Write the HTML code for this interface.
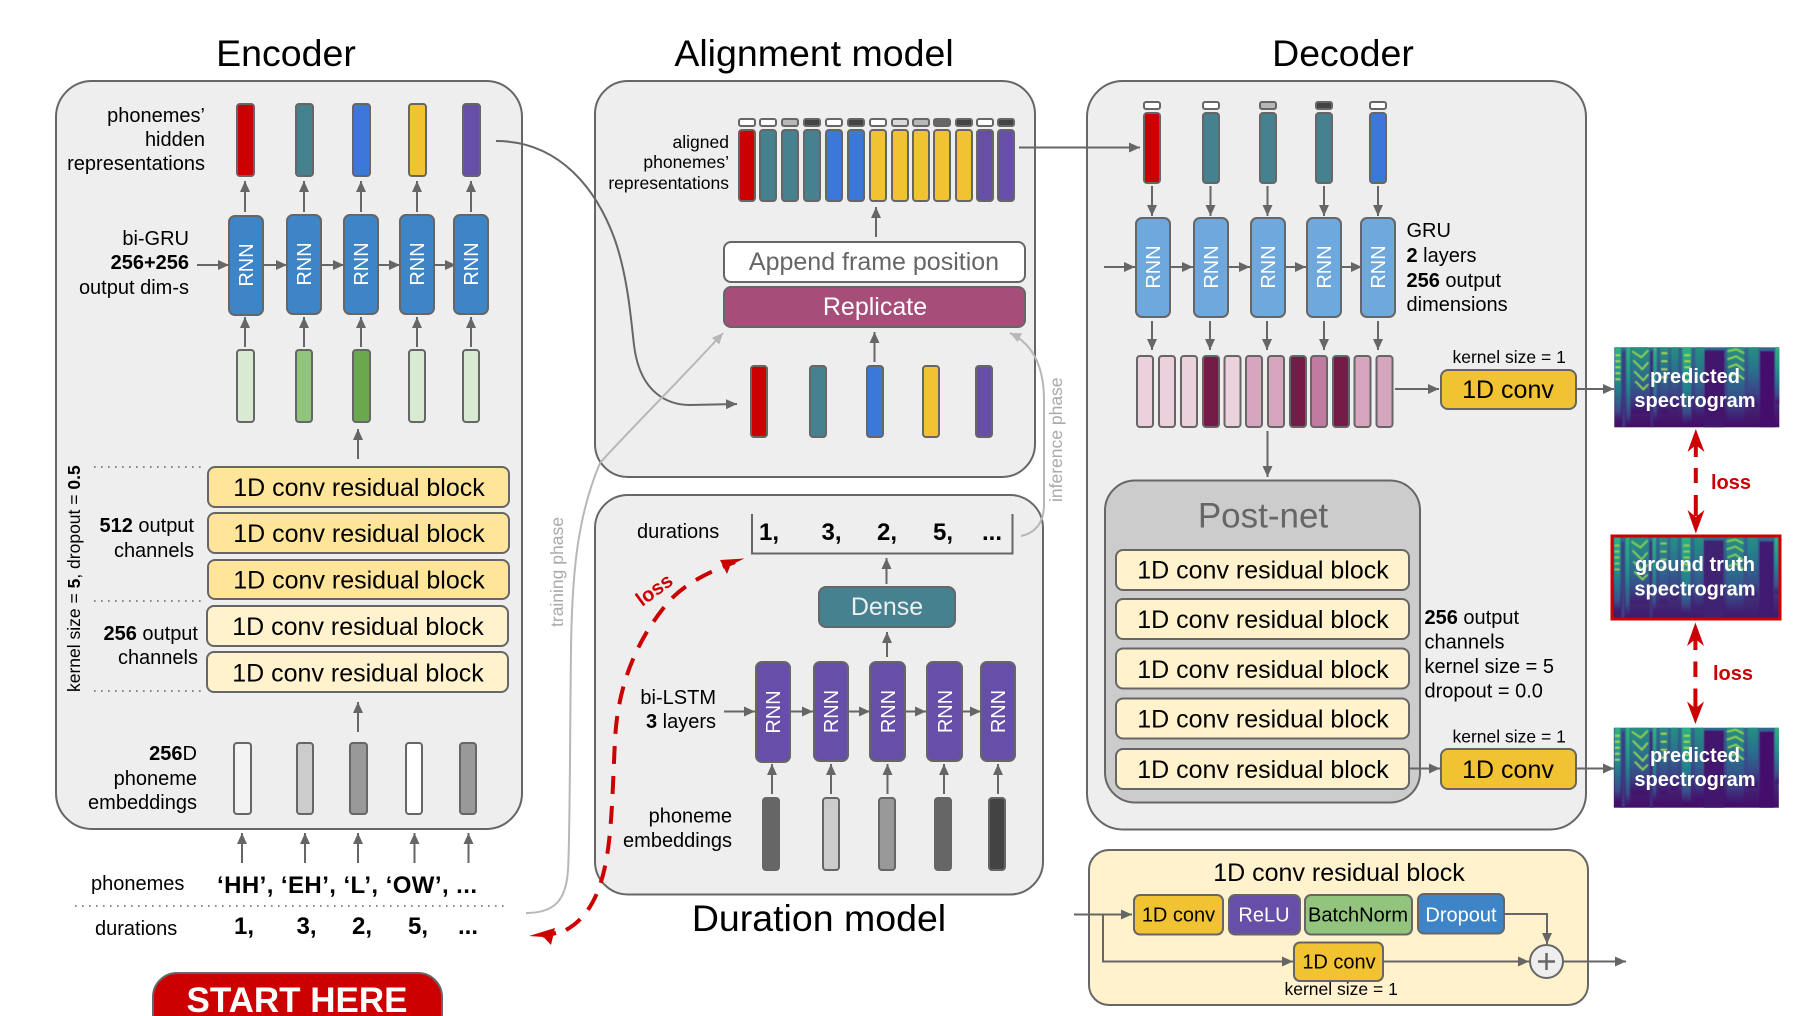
<!DOCTYPE html>
<html><head><meta charset="utf-8"><style>
html,body{margin:0;padding:0;background:#fff;width:1809px;height:1016px;overflow:hidden}
svg{display:block}
text{font-family:"Liberation Sans",sans-serif;fill:#000;font-size:20px}
.b{stroke:#666;stroke-width:2}
.t{font-size:37.5px;text-anchor:middle}
.r{text-anchor:end}
.m{text-anchor:middle}
.bold,.bb{font-weight:bold}
.blk{font-size:25px;text-anchor:middle}
.rnn{font-size:20px;text-anchor:middle;fill:#fff}
.w{stroke:#666;stroke-width:2;fill:none}
.a{stroke:#666;stroke-width:2;fill:none;marker-end:url(#ah)}
.l{stroke:#b7b7b7;stroke-width:2;fill:none;marker-end:url(#lh)}
.sp{font-weight:bold;fill:#fff;text-anchor:middle;font-size:20px}
.rd{stroke:#c00;stroke-width:4;fill:none}
.lo{font-weight:bold;fill:#c00;font-size:20px}
</style></head><body>
<svg width="1809" height="1016" viewBox="0 0 1809 1016" xmlns="http://www.w3.org/2000/svg">
<defs>
<marker id="ah" markerUnits="userSpaceOnUse" markerWidth="12" markerHeight="10" refX="11" refY="5" orient="auto"><polygon points="0,0 11,5 0,10" fill="#666"/></marker>
<marker id="lh" markerUnits="userSpaceOnUse" markerWidth="12" markerHeight="10" refX="11" refY="5" orient="auto"><polygon points="0,0 11,5 0,10" fill="#b7b7b7"/></marker>
<linearGradient id="g1" x1="0" y1="0" x2="0" y2="1"><stop offset="0" stop-color="#2fb47c"/><stop offset=".35" stop-color="#1f9a8a"/><stop offset=".6" stop-color="#26788e"/><stop offset=".85" stop-color="#3b4d8a"/><stop offset="1" stop-color="#440f6b"/></linearGradient>
<linearGradient id="g2" x1="0" y1="0" x2="0" y2="1"><stop offset="0" stop-color="#25907f"/><stop offset=".4" stop-color="#2a6f8e"/><stop offset=".75" stop-color="#3b4486"/><stop offset="1" stop-color="#440f6b"/></linearGradient>
<linearGradient id="g3" x1="0" y1="0" x2="0" y2="1"><stop offset="0" stop-color="#31688e"/><stop offset=".55" stop-color="#3b4486"/><stop offset=".8" stop-color="#43206f"/><stop offset="1" stop-color="#440c68"/></linearGradient>
<filter id="sb" x="0" y="0" width="1" height="1"><feGaussianBlur stdDeviation="0.6"/></filter>
<g id="spec">
<rect width="165" height="80" fill="url(#g3)"/>
<g filter="url(#sb)">
<rect x="90" y="3" width="20" height="77" fill="#43146d"/>
<rect x="146" y="4" width="14" height="76" fill="#44106c"/>
<rect x="8" y="4" width="3" height="76" fill="#3a3a82"/>
<rect x="36" y="4" width="3" height="76" fill="#3f2a7a"/>
<rect x="0.7" y="0" width="6" height="74" fill="url(#g1)"/>
<rect x="12" y="0" width="4" height="78" fill="url(#g1)"/>
<rect x="17" y="0" width="18" height="66" fill="url(#g2)"/>
<rect x="39" y="0" width="3.5" height="74" fill="url(#g1)"/>
<rect x="46" y="0" width="8" height="66" fill="url(#g2)"/>
<rect x="57" y="0" width="7" height="62" fill="url(#g2)"/>
<rect x="68" y="0" width="9" height="76" fill="url(#g1)"/>
<rect x="81" y="0" width="9" height="72" fill="url(#g2)"/>
<rect x="113" y="0" width="17" height="76" fill="url(#g2)"/>
<rect x="134" y="0" width="10" height="60" fill="url(#g2)"/>
<rect x="161" y="0" width="4" height="56" fill="url(#g1)"/>
<path d="M18 4L27 10L34 3M19 13L28 22L34 15M20 24L29 33L34 27M21 34L29 42L34 37" stroke="#8fd744" stroke-width="1.7" fill="none"/>
<path d="M113 4L122 2L130 6M113 12L122 9L130 14M114 20L122 17L130 23M115 29L122 26L130 32" stroke="#8fd744" stroke-width="1.7" fill="none"/>
<path d="M1 8H6M1 14H6M1 20H6M1 26H6M1 32H6M47 6H53M47 14H53M47 22H53M47 30H53M70 8H76M70 14H76M70 20H76M70 27H76M70 33H76" stroke="#b5de2b" stroke-width="1.5" fill="none"/>
</g>
</g>
</defs>

<!-- titles -->
<text class="t" x="286" y="66">Encoder</text>
<text class="t" x="814" y="66">Alignment model</text>
<text class="t" x="1343" y="66">Decoder</text>
<text class="t" x="819" y="931">Duration model</text>

<!-- panels -->
<rect class="b" x="56" y="81" width="466" height="748" rx="36" fill="#eee"/>
<rect class="b" x="595" y="81" width="440" height="396" rx="33" fill="#eee"/>
<rect class="b" x="595" y="495" width="448" height="399.5" rx="33" fill="#eee"/>
<rect class="b" x="1087" y="81" width="499" height="748.5" rx="36" fill="#eee"/>
<rect class="b" x="1089" y="850" width="499" height="155" rx="20" fill="#fff2cc"/>
<rect class="b" x="1105" y="480.5" width="315" height="322" rx="30" fill="#ccc"/>

<!-- ENCODER -->
<text class="r" x="205" y="122">phonemes’</text>
<text class="r" x="205" y="146">hidden</text>
<text class="r" x="205" y="170">representations</text>
<rect class="b" x="237" y="104" width="17" height="72" rx="3" fill="#c00"/>
<rect class="b" x="296" y="104" width="17" height="72" rx="3" fill="#45818e"/>
<rect class="b" x="353" y="104" width="17" height="72" rx="3" fill="#3c78d8"/>
<rect class="b" x="409" y="104" width="17" height="72" rx="3" fill="#f1c232"/>
<rect class="b" x="463" y="104" width="17" height="72" rx="3" fill="#674ea7"/>
<path class="a" d="M245 212V181"/><path class="a" d="M304 212V181"/><path class="a" d="M361 212V181"/><path class="a" d="M417 212V181"/><path class="a" d="M471 212V181"/>
<text class="r" x="189" y="245">bi-GRU</text>
<text class="r bold" x="189" y="269">256+256</text>
<text class="r" x="189" y="294">output dim-s</text>
<path class="a" d="M197 265H229"/><path class="a" d="M263 265H287"/><path class="a" d="M321 265H344"/><path class="a" d="M378 265H400"/><path class="a" d="M434 265H456"/>
<g fill="#3d85c6">
<rect class="b" x="229" y="216" width="34" height="99" rx="6"/>
<rect class="b" x="287" y="215" width="34" height="99" rx="6"/>
<rect class="b" x="344" y="215" width="34" height="99" rx="6"/>
<rect class="b" x="400" y="215" width="34" height="99" rx="6"/>
<rect class="b" x="454" y="215" width="34" height="99" rx="6"/>
</g>
<text class="rnn" transform="translate(253,265) rotate(-90)">RNN</text>
<text class="rnn" transform="translate(311,264) rotate(-90)">RNN</text>
<text class="rnn" transform="translate(368,264) rotate(-90)">RNN</text>
<text class="rnn" transform="translate(424,264) rotate(-90)">RNN</text>
<text class="rnn" transform="translate(478,264) rotate(-90)">RNN</text>
<path class="a" d="M245 347V317"/><path class="a" d="M304 347V317"/><path class="a" d="M361 347V317"/><path class="a" d="M417 347V317"/><path class="a" d="M471 347V317"/>
<rect class="b" x="237" y="350" width="17" height="72" rx="3" fill="#d9ead3"/>
<rect class="b" x="296" y="350" width="16" height="72" rx="3" fill="#93c47d"/>
<rect class="b" x="353" y="350" width="17" height="72" rx="3" fill="#6aa84f"/>
<rect class="b" x="409" y="350" width="16" height="72" rx="3" fill="#d9ead3"/>
<rect class="b" x="463" y="350" width="16" height="72" rx="3" fill="#d9ead3"/>
<path class="a" d="M358 459V429"/>
<g stroke="#666" stroke-width="1.6" stroke-dasharray="1.6 5.4" fill="none">
<path d="M94 467H203M94 601H203M94 691H203M75 906H508"/>
</g>
<g>
<rect class="b" x="208" y="467" width="301" height="40" rx="7" fill="#ffe599"/>
<rect class="b" x="208" y="513" width="301" height="40" rx="7" fill="#ffe599"/>
<rect class="b" x="208" y="560" width="301" height="39" rx="7" fill="#ffe599"/>
<rect class="b" x="207" y="606" width="301" height="40" rx="7" fill="#fff2cc"/>
<rect class="b" x="207" y="652" width="301" height="40" rx="7" fill="#fff2cc"/>
</g>
<text class="blk" x="359" y="496">1D conv residual block</text>
<text class="blk" x="359" y="542">1D conv residual block</text>
<text class="blk" x="359" y="588.5">1D conv residual block</text>
<text class="blk" x="358" y="635">1D conv residual block</text>
<text class="blk" x="358" y="681.5">1D conv residual block</text>
<text transform="translate(80,692) rotate(-90)" style="font-size:17.5px">kernel size = <tspan class="bb">5</tspan>, dropout = <tspan class="bb">0.5</tspan></text>
<text class="r" x="194" y="532"><tspan class="bb">512</tspan> output</text>
<text class="r" x="194" y="557">channels</text>
<text class="r" x="198" y="640"><tspan class="bb">256</tspan> output</text>
<text class="r" x="198" y="664">channels</text>
<text class="r" x="197" y="760"><tspan class="bb">256</tspan>D</text>
<text class="r" x="197" y="785">phoneme</text>
<text class="r" x="197" y="809">embeddings</text>
<path class="a" d="M358 732V702"/>
<rect class="b" x="234" y="743" width="17" height="71" rx="3" fill="#f3f3f3"/>
<rect class="b" x="297" y="743" width="16" height="71" rx="3" fill="#ccc"/>
<rect class="b" x="350" y="743" width="17" height="71" rx="3" fill="#999"/>
<rect class="b" x="406" y="743" width="16" height="71" rx="3" fill="#fff"/>
<rect class="b" x="460" y="743" width="16" height="71" rx="3" fill="#999"/>
<path class="a" d="M242 863V833"/><path class="a" d="M305 863V833"/><path class="a" d="M358 863V833"/><path class="a" d="M414.5 863V833"/><path class="a" d="M468.5 863V833"/>
<text x="91" y="890">phonemes</text>
<text x="95" y="935">durations</text>
<text class="bold" x="217" y="893" style="font-size:24px" textLength="260">‘HH’, ‘EH’, ‘L’, ‘OW’, ...</text>
<text x="234" y="934" style="font-size:24px;font-weight:bold">1,</text>
<text x="296.5" y="934" style="font-size:24px;font-weight:bold">3,</text>
<text x="352" y="934" style="font-size:24px;font-weight:bold">2,</text>
<text x="408" y="934" style="font-size:24px;font-weight:bold">5,</text>
<text x="458" y="934" style="font-size:24px;font-weight:bold">...</text>
<path d="M153 1020V997a24 24 0 0 1 24-24H418a24 24 0 0 1 24 24V1020Z" fill="#c00" stroke="#666" stroke-width="2"/>
<text class="m" x="297" y="1012" style="font-size:35px;font-weight:bold;fill:#fff">START HERE</text>

<!-- ALIGNMENT -->
<text class="r" x="729" y="148" style="font-size:17.5px">aligned</text>
<text class="r" x="729" y="168" style="font-size:17.5px">phonemes’</text>
<text class="r" x="729" y="189" style="font-size:17.5px">representations</text>
<g class="b">
<rect x="739" y="119" width="16" height="7" rx="2" fill="#fff"/>
<rect x="760" y="119" width="16" height="7" rx="2" fill="#fff"/>
<rect x="782" y="119" width="16" height="7" rx="2" fill="#b7b7b7"/>
<rect x="804" y="119" width="16" height="7" rx="2" fill="#434343"/>
<rect x="826" y="119" width="16" height="7" rx="2" fill="#fff"/>
<rect x="848" y="119" width="16" height="7" rx="2" fill="#434343"/>
<rect x="870" y="119" width="16" height="7" rx="2" fill="#fff"/>
<rect x="892" y="119" width="16" height="7" rx="2" fill="#d9d9d9"/>
<rect x="913" y="119" width="16" height="7" rx="2" fill="#b7b7b7"/>
<rect x="934" y="119" width="16" height="7" rx="2" fill="#666"/>
<rect x="956" y="119" width="16" height="7" rx="2" fill="#434343"/>
<rect x="977" y="119" width="16" height="7" rx="2" fill="#fff"/>
<rect x="998" y="119" width="16" height="7" rx="2" fill="#434343"/>
<rect x="739" y="130" width="16" height="71" rx="3" fill="#c00"/>
<rect x="760" y="130" width="16" height="71" rx="3" fill="#45818e"/>
<rect x="782" y="130" width="16" height="71" rx="3" fill="#45818e"/>
<rect x="804" y="130" width="16" height="71" rx="3" fill="#45818e"/>
<rect x="826" y="130" width="16" height="71" rx="3" fill="#3c78d8"/>
<rect x="848" y="130" width="16" height="71" rx="3" fill="#3c78d8"/>
<rect x="870" y="130" width="16" height="71" rx="3" fill="#f1c232"/>
<rect x="892" y="130" width="16" height="71" rx="3" fill="#f1c232"/>
<rect x="913" y="130" width="16" height="71" rx="3" fill="#f1c232"/>
<rect x="934" y="130" width="16" height="71" rx="3" fill="#f1c232"/>
<rect x="956" y="130" width="16" height="71" rx="3" fill="#f1c232"/>
<rect x="977" y="130" width="16" height="71" rx="3" fill="#674ea7"/>
<rect x="998" y="130" width="16" height="71" rx="3" fill="#674ea7"/>
</g>
<path class="a" d="M876 237V207"/>
<rect class="b" x="724" y="242" width="301" height="40" rx="7" fill="#fff"/>
<text class="m" x="874" y="270" style="font-size:25px;fill:#666">Append frame position</text>
<rect class="b" x="724" y="287" width="301" height="40" rx="7" fill="#a64d79"/>
<text class="m" x="875" y="315" style="font-size:25px;fill:#fff">Replicate</text>
<path class="a" d="M874.5 362V332"/>
<rect class="b" x="751" y="366" width="16" height="71" rx="3" fill="#c00"/>
<rect class="b" x="810" y="366" width="16" height="71" rx="3" fill="#45818e"/>
<rect class="b" x="867" y="366" width="16" height="71" rx="3" fill="#3c78d8"/>
<rect class="b" x="923" y="366" width="16" height="71" rx="3" fill="#f1c232"/>
<rect class="b" x="976" y="366" width="16" height="71" rx="3" fill="#674ea7"/>
<path class="a" d="M496 141C560 141 597 190 615 240C628 278 631 320 634 345C640 395 670 405 690 405L737 404"/>
<path class="l" d="M526 913C555 913 566 900 568 870C570 840 570 720 571 650C572 570 578 515 600 463C620 440 680 380 723 333"/>
<path class="l" d="M1021 536C1035 533 1044 523 1044 505L1044 400C1044 370 1035 345 1010 333"/>
<text transform="translate(1062,502) rotate(-90)" style="font-size:17.5px;fill:#aaa">inference phase</text>
<text transform="translate(563,627) rotate(-90)" style="font-size:17.5px;fill:#aaa">training phase</text>

<!-- DURATION -->
<text x="637" y="538">durations</text>
<path class="w" d="M752 514V553.5H1012.5V514"/>
<text x="759" y="540" style="font-size:24px;font-weight:bold">1,</text>
<text x="821.5" y="540" style="font-size:24px;font-weight:bold">3,</text>
<text x="877" y="540" style="font-size:24px;font-weight:bold">2,</text>
<text x="933" y="540" style="font-size:24px;font-weight:bold">5,</text>
<text x="982" y="540" style="font-size:24px;font-weight:bold">...</text>
<path class="a" d="M886.5 584V558"/>
<rect class="b" x="819" y="587" width="136" height="40" rx="7" fill="#45818e"/>
<text class="m" x="887" y="615" style="font-size:25px;fill:#eee">Dense</text>
<path class="a" d="M887 657V632"/>
<path class="a" d="M724 711.5H755"/><path class="a" d="M790 711.5H813"/><path class="a" d="M849 711.5H870"/><path class="a" d="M905 711.5H926"/><path class="a" d="M962 711.5H981"/>
<g fill="#674ea7">
<rect class="b" x="756" y="662" width="34" height="100" rx="6"/>
<rect class="b" x="814" y="662" width="34" height="99" rx="6"/>
<rect class="b" x="870" y="662" width="35" height="99" rx="6"/>
<rect class="b" x="927" y="662" width="35" height="99" rx="6"/>
<rect class="b" x="981" y="662" width="34" height="99" rx="6"/>
</g>
<text class="rnn" transform="translate(780,712) rotate(-90)">RNN</text>
<text class="rnn" transform="translate(838,711.5) rotate(-90)">RNN</text>
<text class="rnn" transform="translate(895,711.5) rotate(-90)">RNN</text>
<text class="rnn" transform="translate(952,711.5) rotate(-90)">RNN</text>
<text class="rnn" transform="translate(1005,711.5) rotate(-90)">RNN</text>
<text class="r" x="716" y="704">bi-LSTM</text>
<text class="r" x="716" y="728"><tspan class="bb">3</tspan> layers</text>
<text class="r" x="732" y="822.5">phoneme</text>
<text class="r" x="732" y="847">embeddings</text>
<path class="a" d="M772 794V764"/><path class="a" d="M831 794V764"/><path class="a" d="M887.5 794V764"/><path class="a" d="M944 794V764"/><path class="a" d="M998 794V764"/>
<rect class="b" x="763" y="798" width="16" height="72" rx="3" fill="#666"/>
<rect class="b" x="823" y="798" width="16" height="72" rx="3" fill="#ccc"/>
<rect class="b" x="879" y="798" width="16" height="72" rx="3" fill="#999"/>
<rect class="b" x="935" y="798" width="16" height="72" rx="3" fill="#666"/>
<rect class="b" x="989" y="798" width="16" height="72" rx="3" fill="#434343"/>
<path class="rd" stroke-dasharray="18 12" d="M566 930C582 921 593 906 600 885C612 850 612 800 615 740C618 680 640 635 670 600C690 580 712 571 735 562"/>
<polygon fill="#c00" points="744.5,558.5 720,560 727,574 730.5,565"/>
<path class="rd" d="M543 936L556 933"/>
<polygon fill="#c00" points="529,936 555,928 551,945 543.5,937"/>
<text transform="translate(642,607) rotate(-36)" class="lo">loss</text>

<!-- DECODER -->
<path class="a" d="M1019 147.5H1140"/>
<g class="b">
<rect x="1144" y="102" width="16" height="7" rx="2" fill="#fff"/>
<rect x="1203" y="102" width="16" height="7" rx="2" fill="#fff"/>
<rect x="1260" y="102" width="16" height="7" rx="2" fill="#b7b7b7"/>
<rect x="1316" y="102" width="16" height="7" rx="2" fill="#434343"/>
<rect x="1370" y="102" width="16" height="7" rx="2" fill="#fff"/>
<rect x="1144" y="113" width="16" height="70" rx="3" fill="#c00"/>
<rect x="1203" y="113" width="16" height="70" rx="3" fill="#45818e"/>
<rect x="1260" y="113" width="16" height="70" rx="3" fill="#45818e"/>
<rect x="1316" y="113" width="16" height="70" rx="3" fill="#45818e"/>
<rect x="1370" y="113" width="16" height="70" rx="3" fill="#3c78d8"/>
</g>
<path class="a" d="M1152 186V216"/><path class="a" d="M1210.5 186V216"/><path class="a" d="M1267.5 186V216"/><path class="a" d="M1324 186V216"/><path class="a" d="M1378 186V216"/>
<path class="a" d="M1104 267H1135"/><path class="a" d="M1170 267H1193"/><path class="a" d="M1228 267H1250"/><path class="a" d="M1285 267H1306"/><path class="a" d="M1341 267H1362"/>
<g fill="#6fa8dc">
<rect class="b" x="1136" y="218" width="34" height="99" rx="6"/>
<rect class="b" x="1194" y="218" width="34" height="99" rx="6"/>
<rect class="b" x="1251" y="218" width="34" height="99" rx="6"/>
<rect class="b" x="1307" y="218" width="34" height="99" rx="6"/>
<rect class="b" x="1361" y="218" width="34" height="99" rx="6"/>
</g>
<text class="rnn" transform="translate(1160,267) rotate(-90)">RNN</text>
<text class="rnn" transform="translate(1218,267) rotate(-90)">RNN</text>
<text class="rnn" transform="translate(1275,267) rotate(-90)">RNN</text>
<text class="rnn" transform="translate(1331,267) rotate(-90)">RNN</text>
<text class="rnn" transform="translate(1385,267) rotate(-90)">RNN</text>
<text x="1406.5" y="237">GRU</text>
<text x="1406.5" y="262"><tspan class="bb">2</tspan> layers</text>
<text x="1406.5" y="287"><tspan class="bb">256</tspan> output</text>
<text x="1406.5" y="311">dimensions</text>
<path class="a" d="M1152 321V350"/><path class="a" d="M1210 321V350"/><path class="a" d="M1267 321V350"/><path class="a" d="M1324 321V350"/><path class="a" d="M1378 321V350"/>
<g class="b">
<rect x="1137" y="356" width="16" height="71" rx="3" fill="#ead1dc"/>
<rect x="1159" y="356" width="16" height="71" rx="3" fill="#ead1dc"/>
<rect x="1181" y="356" width="16" height="71" rx="3" fill="#ead1dc"/>
<rect x="1203" y="356" width="16" height="71" rx="3" fill="#741b47"/>
<rect x="1224.5" y="356" width="16" height="71" rx="3" fill="#ead1dc"/>
<rect x="1246" y="356" width="16" height="71" rx="3" fill="#d5a6bd"/>
<rect x="1268" y="356" width="16" height="71" rx="3" fill="#d5a6bd"/>
<rect x="1290" y="356" width="16" height="71" rx="3" fill="#741b47"/>
<rect x="1311" y="356" width="16" height="71" rx="3" fill="#c27ba0"/>
<rect x="1333" y="356" width="16" height="71" rx="3" fill="#741b47"/>
<rect x="1354.5" y="356" width="16" height="71" rx="3" fill="#d5a6bd"/>
<rect x="1376.5" y="356" width="16" height="71" rx="3" fill="#d5a6bd"/>
</g>
<path class="a" d="M1267.5 431V477"/>
<text x="1452.5" y="363" style="font-size:17.5px">kernel size = 1</text>
<path class="a" d="M1395 389H1439"/>
<rect class="b" x="1441" y="370" width="135" height="39" rx="7" fill="#f1c232"/>
<text class="m" x="1508" y="398" style="font-size:25px">1D conv</text>
<path class="a" d="M1577 389H1614"/>
<text class="m" x="1263" y="527.5" style="font-size:35px;fill:#666">Post-net</text>
<rect class="b" x="1116" y="550" width="293" height="40" rx="7" fill="#fff2cc"/>
<rect class="b" x="1116" y="599" width="293" height="40" rx="7" fill="#fff2cc"/>
<rect class="b" x="1116" y="648.5" width="293" height="40" rx="7" fill="#fff2cc"/>
<rect class="b" x="1116" y="698.5" width="293" height="40" rx="7" fill="#fff2cc"/>
<rect class="b" x="1116" y="749" width="293" height="40" rx="7" fill="#fff2cc"/>
<text class="blk" x="1263" y="578.5">1D conv residual block</text>
<text class="blk" x="1263" y="628">1D conv residual block</text>
<text class="blk" x="1263" y="678">1D conv residual block</text>
<text class="blk" x="1263" y="727.5">1D conv residual block</text>
<text class="blk" x="1263" y="778">1D conv residual block</text>
<text x="1424.5" y="624"><tspan class="bb">256</tspan> output</text>
<text x="1424.5" y="648.5">channels</text>
<text x="1424.5" y="673">kernel size = 5</text>
<text x="1424.5" y="697.5">dropout = 0.0</text>
<text x="1452.5" y="742.5" style="font-size:17.5px">kernel size = 1</text>
<path class="a" d="M1409 768.5H1440"/>
<rect class="b" x="1441" y="749" width="135" height="40" rx="7" fill="#f1c232"/>
<text class="m" x="1508" y="778" style="font-size:25px">1D conv</text>
<path class="a" d="M1577 768.5H1614"/>

<!-- spectrograms -->
<use href="#spec" transform="translate(1614.3,347.3)"/>
<use href="#spec" transform="translate(1613.8,727.7)"/>
<use href="#spec" transform="translate(1613.5,537.5)"/>
<rect x="1613.5" y="537.5" width="165" height="80" fill="#2a8f9c" opacity=".1"/>
<rect x="1612" y="536" width="168" height="83" fill="none" stroke="#c00" stroke-width="3"/>
<text class="sp" x="1695" y="383">predicted</text>
<text class="sp" x="1695" y="407">spectrogram</text>
<text class="sp" x="1695" y="571">ground truth</text>
<text class="sp" x="1695" y="595.5">spectrogram</text>
<text class="sp" x="1695" y="762">predicted</text>
<text class="sp" x="1695" y="786">spectrogram</text>

<!-- red loss arrows -->
<path class="rd" d="M1695.8 444V457M1695.8 468V483M1695.8 495V516M1695.4 632V650M1695.4 661.5V677M1695.4 688.5V710"/>
<polygon fill="#c00" points="1695.8,429 1704.5,452 1695.8,445 1687.5,452"/>
<polygon fill="#c00" points="1695.8,533.5 1704.5,510 1695.8,517 1687.5,510"/>
<polygon fill="#c00" points="1695.4,622.5 1704,646 1695.4,639 1687,646"/>
<polygon fill="#c00" points="1695.4,724 1704,701.5 1695.4,708.5 1687,701.5"/>
<text class="lo" x="1711" y="489">loss</text>
<text class="lo" x="1713" y="680">loss</text>

<!-- RES BLOCK -->
<text class="blk" x="1339" y="881">1D conv residual block</text>
<path class="a" d="M1074 914.5H1132"/>
<path class="a" d="M1103 914.5V961.5H1293"/>
<rect class="b" x="1134" y="895" width="89" height="39.5" rx="6" fill="#f1c232"/>
<rect class="b" x="1229" y="895" width="71" height="39.5" rx="6" fill="#674ea7"/>
<rect class="b" x="1305" y="895" width="107" height="39.5" rx="6" fill="#93c47d"/>
<rect class="b" x="1418" y="894" width="86" height="39.5" rx="6" fill="#3d85c6"/>
<text class="m" x="1178.5" y="921.5">1D conv</text>
<text class="m" x="1264" y="921.5" style="fill:#fff">ReLU</text>
<text class="m" x="1358" y="921.5">BatchNorm</text>
<text class="m" x="1461" y="921.5" style="fill:#fff">Dropout</text>
<path class="a" d="M1504 914H1547V944"/>
<rect class="b" x="1294" y="942.5" width="89" height="38.5" rx="6" fill="#f1c232"/>
<text class="m" x="1339" y="968.5">1D conv</text>
<path class="a" d="M1383 961.5H1529"/>
<ellipse class="b" cx="1546.5" cy="961.5" rx="16.5" ry="16.5" fill="#eee"/>
<path d="M1538 961.5H1555M1546.5 953V970" stroke="#666" stroke-width="2.5" fill="none"/>
<path class="a" d="M1563 961.5H1626"/>
<text x="1284.5" y="995" style="font-size:17.5px">kernel size = 1</text>
</svg>
</body></html>
